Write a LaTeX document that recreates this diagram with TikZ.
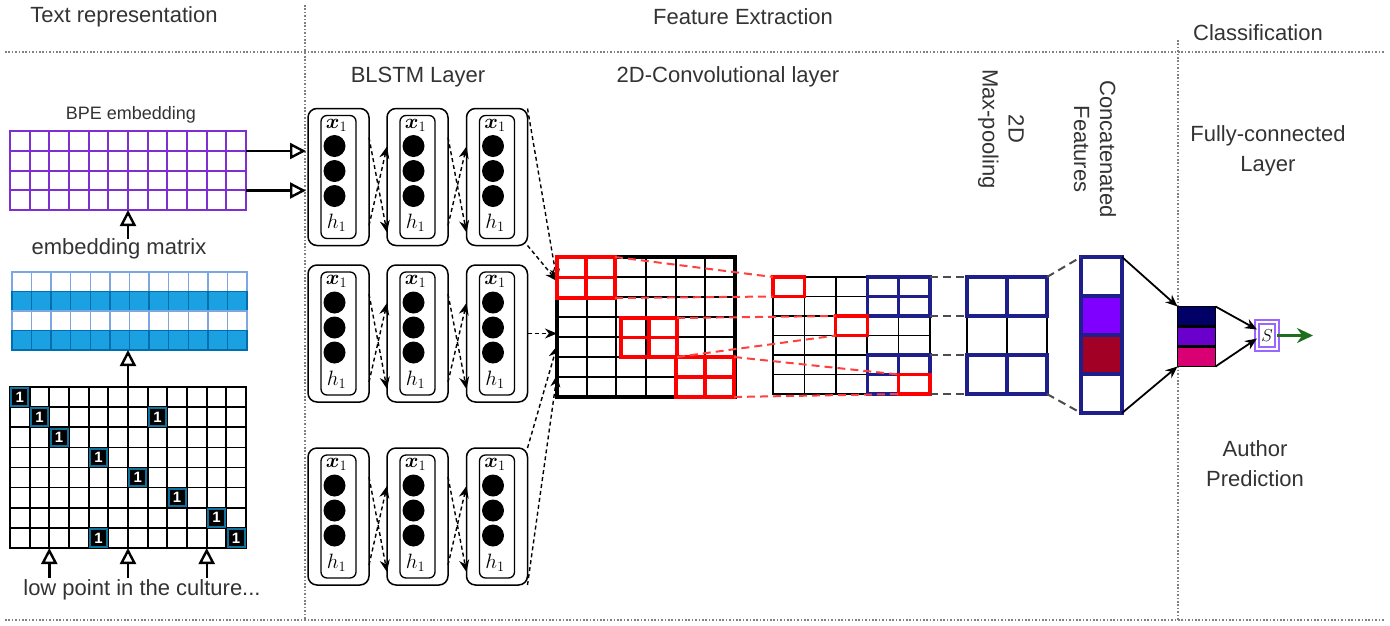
\documentclass[tikz,border=0pt]{standalone}
\usepackage{fontspec}
\usepackage{bm}
\setmainfont{Liberation Sans}
\usetikzlibrary{arrows.meta,positioning}

\definecolor{bpeviolet}{HTML}{7F2FD0}
\definecolor{embfill}{HTML}{1BA1E2}
\definecolor{embline}{HTML}{006EAF}
\definecolor{emblight}{HTML}{7EA6E0}
\definecolor{onehotline}{HTML}{10739E}
\definecolor{poolnavy}{HTML}{1F1F8C}
\definecolor{featviolet}{HTML}{7F00FF}
\definecolor{featcrimson}{HTML}{A20025}
\definecolor{fcnavy}{HTML}{000066}
\definecolor{fcviolet}{HTML}{6A00CC}
\definecolor{fcpink}{HTML}{D80073}
\definecolor{smaxline}{HTML}{9966FF}
\definecolor{outgreen}{HTML}{1E6E1E}
\definecolor{txtgray}{HTML}{333333}

\begin{document}
\begin{tikzpicture}[x=1pt,y=-1pt,>={Stealth[length=12pt,width=10pt]},
    every node/.style={inner sep=0pt,outer sep=0pt},
    hdr/.style={font=\fontsize{22}{30}\selectfont,text=txtgray,align=center},
    sepline/.style={draw=black!50,line width=1.4pt,dash pattern=on 1.6pt off 1.8pt},
    uparrow/.style={line width=2.4pt,-{Triangle[open,fill=white,length=16pt,width=16pt]}},
    lstm/.style={draw,rounded corners=9pt,line width=1.5pt,minimum width=61pt,minimum height=137pt},
    lstm in/.style={draw,rounded corners=6pt,line width=1.3pt,minimum width=35pt,minimum height=123pt},
    hcell/.style={circle,fill=black,minimum size=22pt},
    sym/.style={font=\fontsize{21}{21}\selectfont},
    rnn/.style={->,line width=1.4pt,dash pattern=on 4pt off 3pt},
    hot one/.style={fill=black,draw=onehotline,line width=2pt,minimum width=17pt,minimum height=17.5pt,
                    text=white,font=\fontsize{15}{15}\selectfont\bfseries},
    redsq/.style={draw=red,line width=3.2pt},
    navysq/.style={draw=poolnavy,line width=3.2pt},
    reddash/.style={red!75,line width=2pt,dash pattern=on 8pt off 5pt},
    graydash/.style={black!70,line width=2pt,dash pattern=on 8pt off 5pt}]

  \useasboundingbox (0,0) rectangle (1390,625);

  \node[hdr] (trep) at (124,17) {Text representation};
  \node[hdr] (fext) at (743,17) {Feature Extraction};
  \node[hdr] (clas) at (1258,33) {Classification};
  \draw[sepline] (5,52) -- (1385,52);
  \draw[sepline] (5,620) -- (1385,620);
  \draw[sepline] (305,5) -- (305,620);
  \draw[sepline] (1178,40) -- (1178,620);

  % text representation
  \node[font=\fontsize{18}{18}\selectfont,text=txtgray] (bpelab) at (131,115) {BPE embedding};
  \node[draw=bpeviolet,line width=2pt,minimum width=236pt,minimum height=79pt] (bpe) at (128,170.5) {};
  \foreach \i in {1,...,11}
    \draw[bpeviolet,line width=2pt] (10+19.667*\i,131) -- (10+19.667*\i,210);
  \foreach \j in {1,2,3}
    \draw[bpeviolet,line width=2pt] (10,131+19.75*\j) -- (246,131+19.75*\j);

  \node[hdr] (embtxt) at (119,249) {embedding matrix};
  \draw[uparrow] (embtxt.north -| bpe.south) -- (bpe.south);

  \node[minimum width=235pt,minimum height=78pt] (emb) at (129.5,311) {};
  \foreach \j/\f/\d in {0/white/emblight,1/embfill/embline,2/white/emblight,3/embfill/embline}
    \foreach \i in {0,...,11}
      \draw[fill=\f,draw=\d,line width=1.4pt] (12+19.583*\i,272+19.5*\j) rectangle ++(19.583,19.5);

  \node[draw,line width=1.7pt,minimum width=236pt,minimum height=161pt] (hot) at (128,467.5) {};
  \foreach \i in {1,...,11}
    \draw[line width=1.7pt] (10+19.667*\i,387) -- (10+19.667*\i,548);
  \foreach \j in {1,...,7}
    \draw[line width=1.7pt] (10,387+20.125*\j) -- (246,387+20.125*\j);
  \foreach \c/\r in {0/0,1/1,7/1,2/2,4/3,6/4,8/5,10/6,4/7,11/7}
    \node[hot one] at (19.83+19.667*\c,397.06+20.125*\r) {1};
  \draw[uparrow] (hot.north) -- (hot.north |- emb.south);

  \node[hdr] (sent) at (142,590) {low point in the culture...};
  \coordinate (w1) at (49.3,578);
  \coordinate (w2) at (128,578);
  \coordinate (w3) at (206.7,578);
  \foreach \w in {w1,w2,w3}
    \draw[uparrow] (\w) -- (\w |- hot.south);

  % BLSTM
  \node[hdr] (blstm) at (418,77) {BLSTM Layer};
  \foreach \r/\y in {1/177,2/333.5,3/516.5}
    \foreach \c/\x in {1/338.5,2/417.5,3/497} {
      \node[lstm] (l\r\c) at (\x,\y) {};
      \node[lstm in] at (\x,\y) {};
      \foreach \d in {-31,-6,19}
        \node[hcell] at (\x-4,\y+\d) {};
      \node[sym] at (\x-2,\y-52) {$\bm{x}_1$};
      \node[sym] at (\x-2,\y+46) {$h_1$};
    }

  \coordinate (bpe1) at (246,151);
  \coordinate (bpe2) at (246,190.5);
  \draw[uparrow,shorten >=2pt] (bpe1) -- (bpe1 -| l11.west);
  \draw[uparrow,shorten >=2pt] (bpe2) -- (bpe2 -| l11.west);

  \foreach \r in {1,2,3} {
    \draw[rnn] ([yshift=-29pt]l\r1.north east) -- ([yshift=13pt]l\r2.south west);
    \draw[rnn] ([yshift=20pt]l\r1.south east) -- ([yshift=-38pt]l\r2.north west);
    \draw[rnn] ([yshift=-29pt]l\r2.north east) -- ([yshift=13pt]l\r3.south west);
    \draw[rnn] ([yshift=20pt]l\r2.south east) -- ([yshift=-38pt]l\r3.north west);
  }

  % convolution
  \node[hdr] (convlab) at (728,77) {2D-Convolutional layer};
  \node[draw,line width=3.2pt,minimum width=178pt,minimum height=140pt] (conv) at (646,327) {};
  \foreach \i in {1,...,5}
    \draw[line width=1.7pt] (557+29.667*\i,257) -- (557+29.667*\i,397);
  \foreach \j in {1,...,6}
    \draw[line width=1.7pt] (557,257+20*\j) -- (735,257+20*\j);

  \draw[rnn] (l13.north east) -- ([yshift=-24pt]conv.north west);
  \draw[rnn] (l13.south east) -- ([yshift=-24pt]conv.north west);
  \draw[rnn] (l23.east) -- (l23.east -| conv.west);
  \draw[rnn] (l33.north east) -- ([yshift=51pt]conv.south west);
  \draw[rnn] (l33.south east) -- ([yshift=22pt]conv.south west);

  \node[draw,line width=1.7pt,minimum width=157pt,minimum height=117pt] (cnv2) at (851.5,335.5) {};
  \foreach \i in {1,...,4}
    \draw[line width=1.7pt] (773+31.4*\i,277) -- (773+31.4*\i,394);
  \foreach \j in {1,...,5}
    \draw[line width=1.7pt] (773,277+19.5*\j) -- (930,277+19.5*\j);

  \node[navysq,minimum width=62.8pt,minimum height=39pt] (b1) at (898.6,296.5) {};
  \node[navysq,minimum width=62.8pt,minimum height=39pt] (b2) at (898.6,374.5) {};
  \foreach \n in {b1,b2}
    \draw[poolnavy,line width=3.2pt] (\n.north) -- (\n.south) (\n.west) -- (\n.east);

  \node[redsq,minimum width=58pt,minimum height=41pt] (r1) at (586,277.5) {};
  \node[redsq,minimum width=56pt,minimum height=39pt] (r2) at (649,337.5) {};
  \node[redsq,minimum width=58pt,minimum height=40pt] (r3) at (705,377) {};
  \foreach \n in {r1,r2,r3}
    \draw[red,line width=3.2pt] (\n.north) -- (\n.south) (\n.west) -- (\n.east);

  \node[redsq,minimum width=31.4pt,minimum height=19.5pt] (s1) at (788.7,286.75) {};
  \node[redsq,minimum width=31.4pt,minimum height=19.5pt] (s2) at (851.5,325.75) {};
  \node[redsq,minimum width=31.4pt,minimum height=19.5pt] (s3) at (914.3,384.25) {};

  \foreach \a/\b in {r1/s1,r2/s2,r3/s3} {
    \draw[reddash] (\a.north east) -- (\b.north west);
    \draw[reddash] (\a.south east) -- (\b.south west);
  }

  % pooling and concatenation
  \node[hdr,rotate=-90,font=\fontsize{22}{26}\selectfont] (poollab) at (1001,129) {2D\\Max-pooling};
  \node[draw,line width=1.7pt,minimum width=80pt,minimum height=117pt] (pool) at (1007,335.5) {};
  \draw[line width=1.7pt] (pool.north) -- (pool.south);
  \node[navysq,minimum width=80pt,minimum height=39pt] (p1) at (1007,296.5) {};
  \node[navysq,minimum width=80pt,minimum height=39pt] (p2) at (1007,374.5) {};
  \foreach \n in {p1,p2}
    \draw[poolnavy,line width=3.2pt] (\n.north) -- (\n.south);

  \draw[graydash] (cnv2.north east) -- (pool.north west);
  \draw[graydash] (b1.south east) -- (p1.south west);
  \draw[graydash] (b2.north east) -- (p2.north west);
  \draw[graydash] (cnv2.south east) -- (pool.south west);

  \node[hdr,rotate=-90,font=\fontsize{22}{26}\selectfont] (featlab) at (1095,149) {Concatenated\\Features};
  \foreach \k/\f in {1/white,2/featviolet,3/featcrimson,4/white}
    \node[navysq,fill=\f,minimum width=41pt,minimum height=39pt] (f\k) at (1101.5,237.5+39*\k) {};
  \draw[graydash] (pool.north east) -- (f1.north west);
  \draw[graydash] (pool.south east) -- (f4.south west);

  % classification
  \node[hdr] (fclab) at (1268,151) {Fully-connected\\Layer};
  \foreach \k/\f in {1/fcnavy,2/fcviolet,3/fcpink}
    \node[draw,line width=1.8pt,fill=\f,minimum width=38pt,minimum height=19pt] (c\k) at (1196.5,295.5+20.5*\k) {};
  \draw[->,line width=1.8pt] (f1.north east) -- (c1.north west);
  \draw[->,line width=1.8pt] (f4.south east) -- (c3.south west);

  \node[draw=smaxline,double=white,double distance=2pt,line width=2pt,minimum width=20pt,
        minimum height=27pt,font=\fontsize{18}{18}\selectfont] (smax) at (1267,335.5) {$S$};
  \draw[->,line width=1.8pt] (c1.north east) -- ([yshift=6pt]smax.west);
  \draw[->,line width=1.8pt] (c3.south east) -- ([yshift=-3pt]smax.west);
  \coordinate[right=36pt of smax.east] (pred);
  \draw[outgreen,line width=2.8pt,-{Stealth[length=16pt,width=15pt]}] (smax.east) -- (pred);

  \node[hdr] (predlab) at (1255,464) {Author\\Prediction};

\end{tikzpicture}
\end{document}
